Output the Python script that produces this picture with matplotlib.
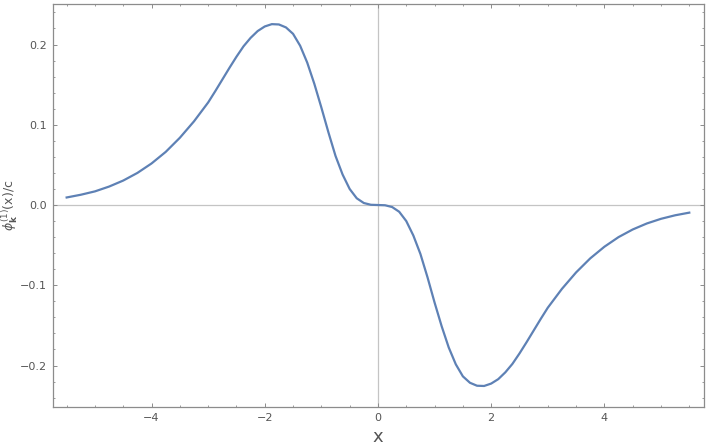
import matplotlib
matplotlib.use("Agg")
import matplotlib.pyplot as plt
from matplotlib.ticker import MultipleLocator, FuncFormatter

plt.rcParams['mathtext.fontset'] = 'dejavusans'

# Curve values
x_left = [-5.50, -5.25, -5.00, -4.75, -4.50, -4.25, -4.00, -3.75, -3.50, -3.25,
          -3.00, -2.875, -2.75, -2.625, -2.50, -2.375, -2.25, -2.125, -2.00, -1.875,
          -1.75, -1.625, -1.50, -1.375, -1.25, -1.125, -1.00, -0.875, -0.75, -0.625,
          -0.50, -0.375, -0.25, -0.125, 0.00]
y_left = [0.0094, 0.0128, 0.0170, 0.0230, 0.0305, 0.0400, 0.0518, 0.0662, 0.0838, 0.1043,
          0.1278, 0.1418, 0.1563, 0.1708, 0.1848, 0.1978, 0.2083, 0.2168, 0.2225, 0.2254,
          0.2250, 0.2213, 0.2133, 0.1985, 0.1775, 0.1512, 0.1215, 0.0905, 0.0612, 0.0380,
          0.0200, 0.0084, 0.0025, 0.0003, 0.0000]

x_right = [0.125, 0.25, 0.375, 0.50, 0.625, 0.75, 0.875, 1.00, 1.125, 1.25,
           1.375, 1.50, 1.625, 1.75, 1.875, 2.00, 2.125, 2.25, 2.375, 2.50,
           2.625, 2.75, 2.875, 3.00, 3.25, 3.50, 3.75, 4.00, 4.25, 4.50,
           4.75, 5.00, 5.25, 5.50]
y_right = [-0.0003, -0.0025, -0.0084, -0.0200, -0.0380, -0.0610, -0.0900, -0.1215, -0.1510, -0.1775,
           -0.1985, -0.2135, -0.2215, -0.2252, -0.2255, -0.2225, -0.2170, -0.2085, -0.1980, -0.1850,
           -0.1710, -0.1565, -0.1420, -0.1280, -0.1045, -0.0840, -0.0665, -0.0520, -0.0400, -0.0305,
           -0.0230, -0.0172, -0.0128, -0.0095]

x_ticks = [-4, -2, 0, 2, 4]
y_ticks = [-0.2, -0.1, 0.0, 0.1, 0.2]

xs = x_left + x_right
ys = y_left + y_right

fig = plt.figure(figsize=(7.08, 4.47), dpi=100)
ax = fig.add_axes([52.5/708, 1-407/447, (704-52.5)/708, (407-4)/447])

ax.axhline(0, color='#c4c4c4', lw=0.9, zorder=1)
ax.axvline(0, color='#c4c4c4', lw=0.9, zorder=1)
ax.plot(xs, ys, color='#5e81b5', lw=1.6, zorder=3, solid_joinstyle='round')

ax.set_xlim(-5.75, 5.76)
ax.set_ylim(-0.2517, 0.2505)

ax.set_xticks(x_ticks)
ax.set_yticks(y_ticks)
ax.xaxis.set_minor_locator(MultipleLocator(0.5))
ax.yaxis.set_minor_locator(MultipleLocator(0.02))

def fmt_y(v, pos):
    return f"{v:.1f}".replace('-', '\u2212')

def fmt_x(v, pos):
    return f"{v:.0f}".replace('-', '\u2212')

ax.yaxis.set_major_formatter(FuncFormatter(fmt_y))
ax.xaxis.set_major_formatter(FuncFormatter(fmt_x))

frame_col = '#8c8c8c'
for sp in ax.spines.values():
    sp.set_color(frame_col)
    sp.set_linewidth(0.9)

ax.tick_params(which='both', direction='in', top=True, right=True,
               colors=frame_col, labelcolor='#555555', labelsize=8)
ax.tick_params(which='major', length=3.2, width=0.7, pad=4)
ax.tick_params(which='minor', length=1.6, width=0.6)

ax.set_xlabel('x', fontsize=13, color='#555555')
ax.xaxis.set_label_coords(0.5, (407 - 428) / 403)
ax.set_ylabel(r'$\phi_{\mathbf{k}}^{(1)}(\mathrm{x})/\mathrm{c}$', fontsize=9,
              color='#555555')
ax.yaxis.set_label_coords((20 - 52.5) / 651.5, 0.5)

fig.savefig('out.png', dpi=100)
